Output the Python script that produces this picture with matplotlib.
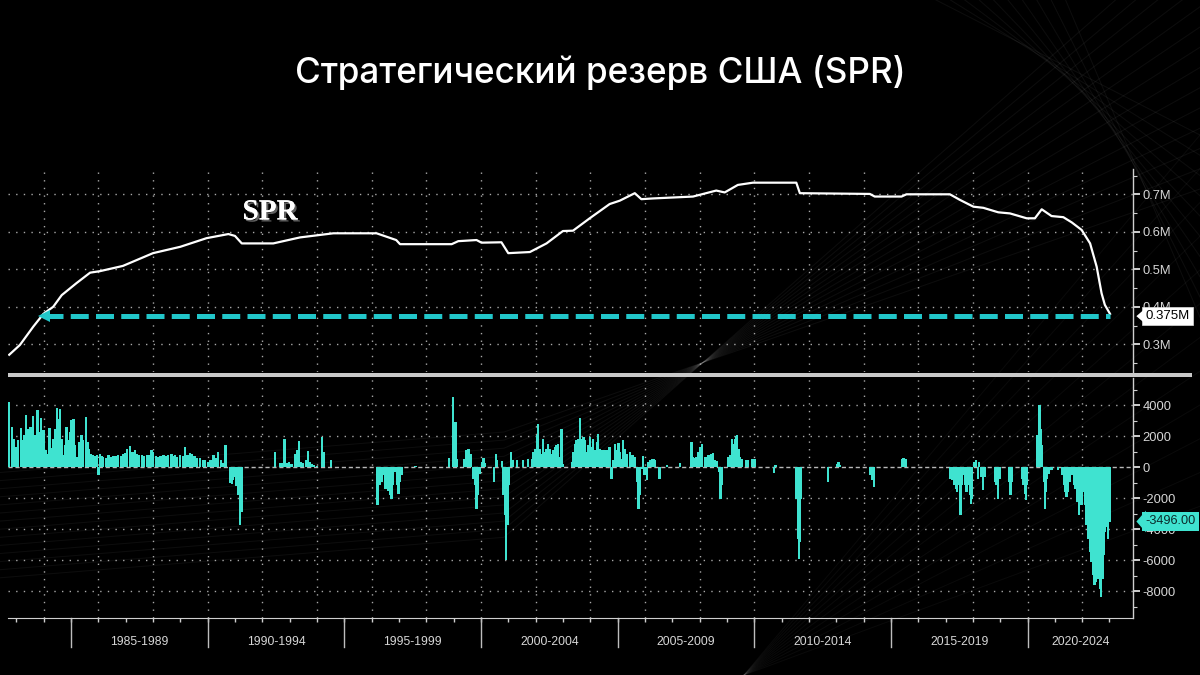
import matplotlib
matplotlib.use("Agg")
import matplotlib.pyplot as plt
import matplotlib.patheffects as pe
from matplotlib.lines import Line2D
from matplotlib.patches import Rectangle, Polygon
import matplotlib.transforms as mtransforms
import numpy as np

# ---------------- data ----------------
title = "Стратегический резерв США (SPR)"
series_label = "SPR"

spr_years = [1982.74, 1983.13, 1983.62, 1983.99, 1984.35, 1984.66, 1985.2, 1985.7, 1986.06,
             1986.9, 1988.0, 1989.0, 1989.96, 1990.76, 1991.0, 1991.25, 1992.4, 1993.38,
             1994.6, 1996.18, 1996.9, 1997.04, 1998.93, 1999.17, 1999.84, 2000.02, 2000.75,
             2001.0, 2001.79, 2002.4, 2003.0, 2003.37, 2003.98, 2004.71, 2005.08, 2005.63,
             2005.87, 2006.3, 2007.76, 2008.61, 2008.92, 2009.4, 2009.95, 2011.54, 2011.67,
             2014.23, 2014.41, 2015.39, 2015.57, 2017.16, 2017.53, 2018.02, 2018.38, 2018.93,
             2019.36, 2019.97, 2020.27, 2020.52, 2020.88, 2021.31, 2021.62, 2021.98, 2022.29,
             2022.53, 2022.71, 2022.83, 2023.02]
spr_values = [0.272, 0.298, 0.347, 0.381, 0.400, 0.431, 0.463, 0.491, 0.495,
              0.509, 0.543, 0.560, 0.583, 0.594, 0.589, 0.569, 0.569, 0.585,
              0.596, 0.596, 0.578, 0.567, 0.567, 0.575, 0.578, 0.571, 0.572,
              0.543, 0.546, 0.569, 0.602, 0.603, 0.636, 0.674, 0.683, 0.703,
              0.687, 0.689, 0.694, 0.710, 0.705, 0.725, 0.731, 0.731, 0.703,
              0.701, 0.694, 0.694, 0.700, 0.700, 0.685, 0.667, 0.664, 0.652,
              0.649, 0.636, 0.636, 0.660, 0.642, 0.639, 0.625, 0.605, 0.569,
              0.507, 0.436, 0.405, 0.381]

last_level = 0.375
last_level_label = "0.375M"
last_change = -3496.00
last_change_label = "-3496.00"

chg_years = [
    1982.74, 1982.83, 1982.91, 1982.99, 1983.07, 1983.16, 1983.23, 1983.28, 1983.35, 1983.44,
    1983.52, 1983.62, 1983.68, 1983.77, 1983.84, 1983.91, 1983.99, 1984.07, 1984.13, 1984.21,
    1984.29, 1984.35, 1984.41, 1984.48, 1984.55, 1984.60, 1984.66, 1984.72, 1984.78, 1984.84,
    1984.90, 1984.96, 1985.02, 1985.09, 1985.15, 1985.23, 1985.30, 1985.38, 1985.45, 1985.54,
    1985.60, 1985.67, 1985.74, 1985.81, 1985.88, 1985.94, 1986.01, 1986.06, 1986.12, 1986.18,
    1986.28, 1986.37, 1986.45, 1986.55, 1986.65, 1986.73, 1986.82, 1986.91, 1986.99, 1987.06,
    1987.16, 1987.23, 1987.28, 1987.34, 1987.40, 1987.50, 1987.59, 1987.67, 1987.77, 1987.87,
    1987.95, 1988.01, 1988.11, 1988.20, 1988.28, 1988.38, 1988.46, 1988.56, 1988.68, 1988.74,
    1988.80, 1988.89, 1988.99, 1989.09, 1989.17, 1989.23, 1989.29, 1989.35, 1989.41, 1989.48,
    1989.54, 1989.62, 1989.72, 1989.82, 1989.90, 1990.02, 1990.11, 1990.21, 1990.30, 1990.39,
    1990.48, 1990.55, 1990.65,
    1990.82, 1990.88, 1990.94, 1991.00, 1991.06, 1991.12, 1991.18, 1991.25,
    1992.46, 1992.65, 1992.71, 1992.81, 1992.89, 1992.98, 1993.07, 1993.20, 1993.26, 1993.34,
    1993.42, 1993.50, 1993.59, 1993.68, 1993.74, 1993.83, 1993.90, 1993.99, 1994.19, 1994.27,
    1994.51,
    1996.22, 1996.31, 1996.37, 1996.43, 1996.49, 1996.55, 1996.61, 1996.67, 1996.73, 1996.79,
    1996.85, 1996.92, 1996.98, 1997.04, 1997.10, 1997.60, 1998.83, 1998.97, 1999.07, 1999.13,
    1999.38, 1999.45, 1999.54, 1999.62, 1999.72, 1999.78, 1999.84, 1999.90, 1999.97, 2000.03,
    2000.09, 2000.15, 2000.48, 2000.55, 2000.60, 2000.76, 2000.82, 2000.88, 2000.92, 2000.97,
    2001.02, 2001.09, 2001.18, 2001.33, 2001.53, 2001.71, 2001.86, 2001.92, 2001.98, 2002.04,
    2002.10, 2002.16, 2002.22, 2002.28, 2002.34, 2002.40, 2002.46, 2002.53, 2002.59, 2002.65,
    2002.71, 2002.77, 2002.83, 2002.87, 2002.95, 2003.01, 2003.32, 2003.38, 2003.44, 2003.50,
    2003.56, 2003.62, 2003.69, 2003.75, 2003.81, 2003.87, 2003.93, 2003.99, 2004.05, 2004.11,
    2004.17, 2004.24, 2004.29, 2004.36, 2004.42, 2004.51, 2004.60, 2004.70, 2004.78, 2004.84,
    2004.91, 2004.97, 2005.03, 2005.09, 2005.15, 2005.21, 2005.27, 2005.33, 2005.45, 2005.55,
    2005.64, 2005.72, 2005.77, 2005.82, 2005.88, 2005.92, 2005.99, 2006.07, 2006.13, 2006.19,
    2006.25, 2006.31, 2006.37, 2006.53, 2006.80,
    2007.28, 2007.71, 2007.77, 2007.83, 2007.89, 2007.95, 2008.01, 2008.08, 2008.20, 2008.26,
    2008.32, 2008.38, 2008.44, 2008.50, 2008.56, 2008.63, 2008.72, 2008.77, 2008.81, 2009.05,
    2009.11, 2009.18, 2009.24, 2009.30, 2009.33, 2009.38, 2009.43, 2009.48, 2009.54, 2009.70,
    2009.75, 2009.91, 2009.97, 2010.03, 2010.73, 2010.78, 2011.55, 2011.59, 2011.63, 2011.68,
    2011.70, 2012.71, 2013.02, 2013.08, 2013.14, 2014.26, 2014.33, 2014.38, 2015.40, 2015.46,
    2015.55,
    2017.18, 2017.26, 2017.32, 2017.38, 2017.43, 2017.50, 2017.55, 2017.60, 2017.67, 2017.72,
    2017.77, 2017.83, 2017.89, 2017.93, 2017.98, 2018.04, 2018.11, 2018.18, 2018.23, 2018.32,
    2018.38, 2018.44, 2018.81, 2018.87, 2018.93, 2018.99, 2019.33, 2019.38, 2019.43, 2019.79,
    2019.84, 2019.90, 2019.94, 2019.98, 2020.35, 2020.40, 2020.44, 2020.48, 2020.53, 2020.60,
    2020.63, 2020.67, 2020.72, 2020.79, 2020.88, 2021.12, 2021.28, 2021.33, 2021.38, 2021.43,
    2021.49, 2021.55, 2021.61, 2021.70, 2021.76, 2021.82, 2021.88, 2021.93, 2021.98, 2022.04,
    2022.10, 2022.16, 2022.22, 2022.28, 2022.34, 2022.40, 2022.45, 2022.50, 2022.55, 2022.60,
    2022.65, 2022.70, 2022.74, 2022.79, 2022.84, 2022.89, 2022.95, 2023.01]
chg_values = [
    4214, 2600, 1850, 1310, 1741, 2537, 1741, 2064, 3354, 2494,
    2601, 3311, 2064, 3677, 2279, 3182, 2387, 1097, 882, 2537,
    1247, 1849, 2494, 3827, 3139, 3784, 1849, 774, 1419, 2601,
    1742, 2279, 3032, 3096, 1419, 667, 1634, 2107, 1742, 3246,
    1634, 1204, 882, 800, 731, 800, -516, 881, 700, 667,
    600, 774, 650, 731, 700, 774, 750, 881, 900, 1204,
    1355, 1000, 989, 1100, 881, 800, 774, 700, 774, 800,
    1097, 989, 700, 667, 750, 817, 700, 774, 881, 700,
    817, 650, 774, 700, 1312, 800, 774, 900, 881, 700,
    710, 600, 602, 500, 450, 344, 500, 774, 600, 989,
    450, 300, 1462,
    -1000, -1053, -800, -600, -1200, -1800, -3741, -2900,
    989, 300, 250, 1849, 250, 344, 220, 881, 1097, 1677,
    344, 301, 451, 1075, 344, 237, 130, 65, 1957, 989,
    495,
    -2451, -1161, -946, -516, -1376, -1376, -1548, -1806, -2064, -1161,
    -301, -1161, -1698, -946, -516, 60, 602, 4536, 2942, 535,
    559, 1097, 1161, 881, -731, -1161, -2666, -1806, -408, 344,
    602, 301, -946, 881, 451, 387, -1806, -3096, -5998, -3741,
    -1161, 989, 451, 451, 451, 516, 559, 989, 1204, 2064,
    2816, 1204, 881, 1849, 989, 1204, 1526, 1204, 881, 1097,
    1312, 1462, 1526, 667, 2494, 237, 344, 989, 1526, 1742,
    1849, 3182, 1806, 1957, 1742, 989, 1419, 1957, 1312, 1849,
    1097, 1634, 2172, 1204, 1097, 1097, 1097, 1312, -731, 451,
    1526, 1097, 1591, 989, 559, 1742, 1204, 881, 989, 774,
    667, -946, -2709, -1806, -86, 731, -516, -838, 344, 451,
    559, 516, 451, -731, 172,
    301, 1634, 667, 602, 667, 989, 1312, 1526, 667, 667,
    774, 774, 881, 946, 451, 387, -301, -2021, -1161, 667,
    774, 1806, 1526, 1849, 2021, 2064, 1204, 667, 559, 451,
    451, 516, 516, 516, -344, 129, -2021, -4601, -5891, -4816,
    -2021, -946, 237, 344, 129, -516, -838, -1269, 559, 602,
    559,
    -731, -838, -1161, -1376, -1591, -1161, -3096, -1161, -516, -1161,
    -1591, -1161, -1806, -2344, -2021, 344, 451, -731, 344, -624,
    -1484, -624, -946, -1161, -2021, -731, -946, -1806, -946, -731,
    -1161, -1698, -2129, -1161, 2064, 2064, 3999, 2494, 1419, -946,
    -2666, -1591, -731, -408, -194, -194, -516, -1161, -1591, -1913,
    -1591, -946, -516, -1161, -1376, -2236, -3096, -2021, -2451, -1591,
    -2451, -3741, -4601, -5461, -6106, -6966, -7611, -7396, -6644, -7181,
    -7826, -8364, -7181, -5676, -4171, -3849, -4601, -3526]

period_starts = [1985, 1990, 1995, 2000, 2005, 2010, 2015, 2020]
period_labels = ["1985-1989", "1990-1994", "1995-1999", "2000-2004",
                 "2005-2009", "2010-2014", "2015-2019", "2020-2024"]

level_ticks = [0.3, 0.4, 0.5, 0.6, 0.7]
level_tick_labels = ["0.3M", "0.4M", "0.5M", "0.6M", "0.7M"]
change_ticks = [4000, 2000, 0, -2000, -4000, -6000, -8000]

# ---------------- style ----------------
BG = "#000000"
BAR = "#3fe3d0"
DASH = "#22c6c9"
GRID = "#a8a8a8"
TXT = "#d6d6d6"
XMIN, XMAX = 1982.695, 2023.86

fig = plt.figure(figsize=(12, 6.75), dpi=100, facecolor=BG)

# faint decorative background lines
for k in range(14):
    fig.add_artist(Line2D([0.0, 0.42, 1.0], [0.30 - k * 0.012, 0.36 - k * 0.012, 0.72 + k * 0.03],
                          color="#ffffff", alpha=0.05, lw=0.8, zorder=0))
for k in range(12):
    fig.add_artist(Line2D([0.62, 1.0], [0.0, 0.25 + k * 0.05],
                          color="#ffffff", alpha=0.04, lw=0.8, zorder=0))
for k in range(10):
    fig.add_artist(Line2D([0.78 + k * 0.012, 1.0], [1.0, 0.80 - k * 0.03],
                          color="#ffffff", alpha=0.05, lw=0.8, zorder=0))

fig.text(0.5, 1 - 72 / 675, title, ha="center", va="center", color="white",
         fontsize=25.3, family=["Inter", "DejaVu Sans"], fontweight="medium")

W = 1200.0
H = 675.0
left = 8 / W
width = (1133 - 8) / W

ax1 = fig.add_axes([left, 1 - 372 / H, width, (372 - 169) / H])
ax2 = fig.add_axes([left, 1 - 617.7 / H, width, (617.7 - 378) / H])

for ax in (ax1, ax2):
    ax.set_facecolor("none")
    ax.set_xlim(XMIN, XMAX)
    for s in ("left", "top", "bottom"):
        ax.spines[s].set_visible(False)
    ax.spines["right"].set_color("#cfcfcf")
    ax.spines["right"].set_linewidth(1.0)
    ax.yaxis.tick_right()
    ax.tick_params(axis="y", which="major", direction="out", length=5, width=1.4,
                   color="#cfcfcf", labelcolor=TXT, labelsize=9.3, pad=2)
    ax.tick_params(axis="y", which="minor", direction="out", length=3, width=0.8, color="#cfcfcf")
    for yr in range(1984, 2024, 2):
        ax.axvline(yr, color=GRID, lw=1.0, ls=(0, (1, 4.5)), zorder=1)

# ---- upper panel ----
ax1.set_ylim(0.226, 0.7675)
ax1.set_yticks(level_ticks)
ax1.set_yticklabels(level_tick_labels, family="Liberation Sans")
ax1.set_yticks([0.25, 0.35, 0.45, 0.55, 0.65, 0.75], minor=True)
ax1.set_xticks([])
for v in level_ticks:
    ax1.axhline(v, color=GRID, lw=1.0, ls=(0, (1, 4.5)), zorder=1)

ax1.plot(spr_years, spr_values, color="white", lw=1.6, zorder=4,
         solid_joinstyle="round")
ax1.plot([1984.05, spr_years[-1]], [last_level, last_level], color=DASH, lw=3.6,
         dashes=(3.6, 1.45), zorder=5, solid_capstyle="butt")
ax1.plot([1984.0], [last_level], marker="<", color=DASH, markersize=8, zorder=6,
         markeredgewidth=0)
ax1.text(1992.28, 0.653, series_label, color="white", fontsize=21, fontweight="bold",
         family=["Liberation Serif", "DejaVu Serif"], ha="center", va="center",
         path_effects=[pe.withSimplePatchShadow(offset=(1.5, -1.5), shadow_rgbFace="#777777",
                                                alpha=0.8), pe.Normal()])

tr1 = mtransforms.blended_transform_factory(ax1.transAxes, ax1.transData)
ax1.text(1.011, last_level, last_level_label, transform=tr1, ha="left", va="center",
         fontsize=9.5, color="black", family="Liberation Sans", zorder=10,
         bbox=dict(boxstyle="square,pad=0.25", facecolor="white", edgecolor="#dddddd", lw=0.5),
         clip_on=False)
ax1.add_patch(Polygon([[1.003, last_level], [1.0115, last_level + 0.022], [1.0115, last_level - 0.022]],
                      closed=True, transform=tr1, facecolor="white", edgecolor="none",
                      clip_on=False, zorder=10))

# ---- lower panel ----
ax2.set_ylim(-9703, 5761)
ax2.set_yticks(change_ticks)
ax2.set_yticklabels([str(t) for t in change_ticks], family="Liberation Sans")
ax2.set_yticks([5000, 3000, 1000, -1000, -3000, -5000, -7000, -9000], minor=True)
for v in change_ticks:
    if v != 0:
        ax2.axhline(v, color=GRID, lw=1.0, ls=(0, (1, 4.5)), zorder=1)
ax2.axhline(0, color="#b8b8b8", lw=1.0, ls=(0, (3, 2)), zorder=3)

ax2.bar(chg_years, chg_values, width=0.085, color=BAR, edgecolor="none", zorder=4,
        align="center")

ax2.spines["bottom"].set_visible(True)
ax2.spines["bottom"].set_color("#cfcfcf")
ax2.set_xticks(list(range(1983, 2024)))
ax2.tick_params(axis="x", which="major", direction="out", length=3, width=1.0,
                color="#cfcfcf", labelbottom=False)

tr2x = mtransforms.blended_transform_factory(ax2.transData, ax2.transAxes)
sep_y = -(647 - 617.7) / (617.7 - 378)
lab_y = -(642 - 617.7) / (617.7 - 378)
for start, lab in zip(period_starts, period_labels):
    ax2.add_line(Line2D([start, start], [0, sep_y], transform=tr2x, color="#bdbdbd",
                        lw=1.0, clip_on=False))
    center = (start + min(start + 5, XMAX)) / 2
    ax2.text(center, lab_y, lab, transform=tr2x, ha="center", va="center",
             color=TXT, fontsize=8.8, family="Liberation Sans")

tr2 = mtransforms.blended_transform_factory(ax2.transAxes, ax2.transData)
ax2.text(1.011, last_change, last_change_label, transform=tr2, ha="left", va="center",
         fontsize=9.2, color="#0a2a2a", family="Liberation Sans", zorder=10,
         bbox=dict(boxstyle="square,pad=0.25", facecolor=BAR, edgecolor="none"),
         clip_on=False)
ax2.add_patch(Polygon([[1.003, last_change], [1.0115, last_change + 700], [1.0115, last_change - 700]],
                      closed=True, transform=tr2, facecolor=BAR, edgecolor="none",
                      clip_on=False, zorder=10))

# separator bar between panels
fig.add_artist(Rectangle((8 / W, 1 - 377 / H), (1192 - 8) / W, 4 / H,
                         facecolor="#c9c9c9", edgecolor="none", zorder=5))

fig.savefig("out.png", dpi=100, facecolor=BG)
